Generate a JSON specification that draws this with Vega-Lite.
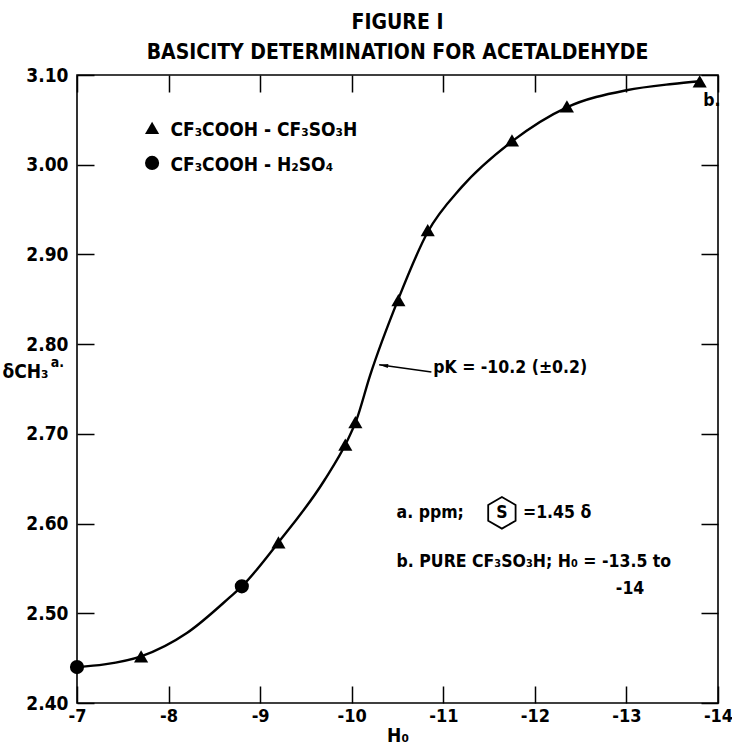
{
  "$schema": "https://vega.github.io/schema/vega-lite/v6.json",
  "width": 641,
  "height": 628,
  "autosize": {"type": "none"},
  "padding": {"left": 77, "top": 75, "right": 14, "bottom": 46},
  "background": "white",
  "config": {
    "font": "DejaVu Sans Condensed",
    "view": {"stroke": "black", "strokeWidth": 1.6},
    "text": {"color": "black", "fontSize": 18, "font": "DejaVu Sans Condensed", "fontWeight": "bold"}
  },
  "title": {
    "text": ["FIGURE I", "BASICITY DETERMINATION FOR ACETALDEHYDE"],
    "fontSize": 21,
    "fontWeight": "bold",
    "color": "black",
    "anchor": "middle",
    "lineHeight": 30,
    "offset": 3
  },
  "datasets": {
    "curve": [
      {"h0": -7.0, "shift": 2.44},
      {"h0": -7.3, "shift": 2.443},
      {"h0": -7.7, "shift": 2.452},
      {"h0": -8.2, "shift": 2.478},
      {"h0": -8.67, "shift": 2.518},
      {"h0": -8.8, "shift": 2.53},
      {"h0": -9.2, "shift": 2.579},
      {"h0": -9.7, "shift": 2.648},
      {"h0": -9.95, "shift": 2.692},
      {"h0": -10.05, "shift": 2.715},
      {"h0": -10.2, "shift": 2.765},
      {"h0": -10.5, "shift": 2.848},
      {"h0": -10.83, "shift": 2.925},
      {"h0": -11.2, "shift": 2.975},
      {"h0": -11.75, "shift": 3.026},
      {"h0": -12.35, "shift": 3.064},
      {"h0": -13.0, "shift": 3.083},
      {"h0": -13.5, "shift": 3.09},
      {"h0": -13.8, "shift": 3.093}
    ],
    "points": [
      {"h0": -7.0, "shift": 2.44, "system": "CF3COOH-H2SO4"},
      {"h0": -7.7, "shift": 2.452, "system": "CF3COOH-CF3SO3H"},
      {"h0": -8.8, "shift": 2.53, "system": "CF3COOH-H2SO4"},
      {"h0": -9.2, "shift": 2.579, "system": "CF3COOH-CF3SO3H"},
      {"h0": -9.93, "shift": 2.688, "system": "CF3COOH-CF3SO3H"},
      {"h0": -10.04, "shift": 2.713, "system": "CF3COOH-CF3SO3H"},
      {"h0": -10.51, "shift": 2.849, "system": "CF3COOH-CF3SO3H"},
      {"h0": -10.83, "shift": 2.927, "system": "CF3COOH-CF3SO3H"},
      {"h0": -11.75, "shift": 3.027, "system": "CF3COOH-CF3SO3H"},
      {"h0": -12.35, "shift": 3.065, "system": "CF3COOH-CF3SO3H"},
      {"h0": -13.8, "shift": 3.093, "system": "CF3COOH-CF3SO3H"}
    ],
    "legend": [
      {"h0": -7.82, "shift": 3.041, "system": "CF3COOH-CF3SO3H"},
      {"h0": -7.82, "shift": 3.002, "system": "CF3COOH-H2SO4"}
    ],
    "legendText": [
      {"h0": -8.02, "shift": 3.039, "label": "CF₃COOH - CF₃SO₃H"},
      {"h0": -8.02, "shift": 3.0, "label": "CF₃COOH - H₂SO₄"}
    ],
    "notes": [
      {"h0": -10.49, "shift": 2.612, "label": "a.  ppm;"},
      {"h0": -11.87, "shift": 2.612, "label": "=1.45 δ"},
      {"h0": -10.49, "shift": 2.557, "label": "b.  PURE CF₃SO₃H; H₀ = -13.5  to"},
      {"h0": -10.89, "shift": 2.773, "label": "pK = -10.2 (±0.2)"},
      {"h0": -13.84, "shift": 3.071, "label": "b."}
    ],
    "centered": [
      {"h0": -13.04, "shift": 2.527, "label": "-14"},
      {"h0": -11.64, "shift": 2.612, "label": "S"}
    ],
    "superscript": [
      {"h0": -6.785, "shift": 2.779, "label": "a."}
    ],
    "hexagon": [
      {"h0": -11.64, "shift": 2.612}
    ],
    "arrow": [
      {"h0": -10.3, "shift": 2.777, "h0End": -10.87, "shiftEnd": 2.769}
    ]
  },
  "layer": [
    {
      "data": {"name": "curve"},
      "mark": {"type": "line", "interpolate": "monotone", "color": "black", "strokeWidth": 2.4, "clip": false},
      "encoding": {
        "x": {
          "field": "h0", "type": "quantitative",
          "scale": {"domain": [-7, -14], "nice": false, "zero": false},
          "axis": {
            "orient": "bottom",
            "values": [-7, -8, -9, -10, -11, -12, -13, -14],
            "labelExpr": "toString(datum.value)",
            "domain": false, "grid": false,
            "tickSize": -17, "tickWidth": 1.5, "tickColor": "black",
            "labelFontSize": 18, "labelFontWeight": "bold", "labelColor": "black", "labelPadding": 21,
            "labelFlush": false, "labelOverlap": false,
            "title": "H₀", "titleFontSize": 19, "titleFontWeight": "bold", "titleColor": "black", "titlePadding": 1
          }
        },
        "y": {
          "field": "shift", "type": "quantitative",
          "scale": {"domain": [2.4, 3.1], "nice": false, "zero": false},
          "axis": {
            "orient": "left",
            "values": [2.4, 2.5, 2.6, 2.7, 2.8, 2.9, 3.0, 3.1],
            "format": ".2f",
            "domain": false, "grid": false,
            "tickSize": -17, "tickWidth": 1.5, "tickColor": "black",
            "labelFontSize": 19, "labelFontWeight": "bold", "labelColor": "black", "labelPadding": 26,
            "labelFlush": false, "labelOverlap": false,
            "title": "δCH₃",
            "titleAngle": 0, "titleAlign": "left", "titleBaseline": "middle",
            "titleX": -75, "titleY": 296,
            "titleFontSize": 19, "titleFontWeight": "bold", "titleColor": "black"
          }
        }
      }
    },
    {
      "data": {"name": "points"},
      "mark": {"type": "point", "filled": true, "color": "black", "opacity": 1, "size": 200, "clip": false},
      "encoding": {
        "x": {
          "field": "h0", "type": "quantitative",
          "axis": {
            "orient": "top", "labels": false, "title": null,
            "values": [-7, -8, -9, -10, -11, -12, -13, -14],
            "domain": false, "grid": false,
            "tickSize": -17, "tickWidth": 1.5, "tickColor": "black"
          }
        },
        "y": {
          "field": "shift", "type": "quantitative",
          "axis": {
            "orient": "right", "labels": false, "title": null,
            "values": [2.4, 2.5, 2.6, 2.7, 2.8, 2.9, 3.0, 3.1],
            "domain": false, "grid": false,
            "tickSize": -17, "tickWidth": 1.5, "tickColor": "black"
          }
        },
        "shape": {
          "field": "system", "type": "nominal",
          "scale": {"domain": ["CF3COOH-CF3SO3H", "CF3COOH-H2SO4"], "range": ["triangle-up", "circle"]},
          "legend": null
        }
      }
    },
    {
      "data": {"name": "legend"},
      "mark": {"type": "point", "filled": true, "color": "black", "opacity": 1, "size": 200, "clip": false},
      "encoding": {
        "x": {"field": "h0", "type": "quantitative", "axis": null},
        "y": {"field": "shift", "type": "quantitative", "axis": null},
        "shape": {
          "field": "system", "type": "nominal",
          "scale": {"domain": ["CF3COOH-CF3SO3H", "CF3COOH-H2SO4"], "range": ["triangle-up", "circle"]},
          "legend": null
        }
      }
    },
    {
      "data": {"name": "legendText"},
      "mark": {"type": "text", "align": "left", "baseline": "middle", "fontSize": 19},
      "encoding": {
        "x": {"field": "h0", "type": "quantitative", "axis": null},
        "y": {"field": "shift", "type": "quantitative", "axis": null},
        "text": {"field": "label"}
      }
    },
    {
      "data": {"name": "notes"},
      "mark": {"type": "text", "align": "left", "baseline": "middle", "fontSize": 17.5},
      "encoding": {
        "x": {"field": "h0", "type": "quantitative", "axis": null},
        "y": {"field": "shift", "type": "quantitative", "axis": null},
        "text": {"field": "label"}
      }
    },
    {
      "data": {"name": "centered"},
      "mark": {"type": "text", "align": "center", "baseline": "middle", "fontSize": 17.5, "clip": false},
      "encoding": {
        "x": {"field": "h0", "type": "quantitative", "axis": null},
        "y": {"field": "shift", "type": "quantitative", "axis": null},
        "text": {"field": "label"}
      }
    },
    {
      "data": {"name": "superscript"},
      "mark": {"type": "text", "align": "center", "baseline": "middle", "fontSize": 14, "clip": false},
      "encoding": {
        "x": {"field": "h0", "type": "quantitative", "axis": null},
        "y": {"field": "shift", "type": "quantitative", "axis": null},
        "text": {"field": "label"}
      }
    },
    {
      "data": {"name": "hexagon"},
      "mark": {"type": "point", "filled": false, "stroke": "black", "strokeWidth": 1.8, "opacity": 1, "size": 1000,
               "shape": "M0,-1 L0.866,-0.5 L0.866,0.5 L0,1 L-0.866,0.5 L-0.866,-0.5 Z"},
      "encoding": {
        "x": {"field": "h0", "type": "quantitative", "axis": null},
        "y": {"field": "shift", "type": "quantitative", "axis": null}
      }
    },
    {
      "data": {"name": "arrow"},
      "mark": {"type": "rule", "color": "black", "strokeWidth": 1.5},
      "encoding": {
        "x": {"field": "h0", "type": "quantitative", "axis": null},
        "y": {"field": "shift", "type": "quantitative", "axis": null},
        "x2": {"field": "h0End"},
        "y2": {"field": "shiftEnd"}
      }
    },
    {
      "data": {"name": "arrow"},
      "mark": {"type": "point", "filled": true, "color": "black", "opacity": 1, "size": 81, "angle": 8,
               "shape": "M0,0 L2,-0.45 L2,0.45 Z"},
      "encoding": {
        "x": {"field": "h0", "type": "quantitative", "axis": null},
        "y": {"field": "shift", "type": "quantitative", "axis": null}
      }
    }
  ],
  "resolve": {"axis": {"x": "independent", "y": "independent"}}
}
